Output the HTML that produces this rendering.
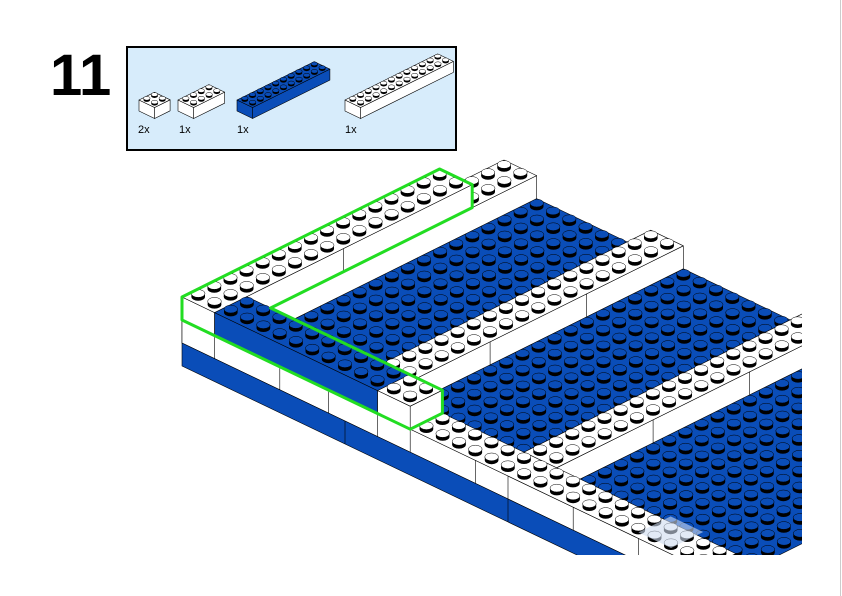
<!DOCTYPE html>
<html><head><meta charset="utf-8"><style>
html,body{margin:0;padding:0;background:#fff;}
body{width:842px;height:596px;overflow:hidden;position:relative;font-family:"Liberation Sans",sans-serif;}
</style></head><body>
<svg id="s" width="842" height="596" viewBox="0 0 842 596" xmlns="http://www.w3.org/2000/svg" style="position:absolute;left:0;top:0">
<line x1="840.5" y1="0" x2="840.5" y2="596" stroke="#ccc" stroke-width="1"/>
<text x="50" y="95" font-family="Liberation Sans" font-weight="bold" font-size="58" fill="#000">11</text>
<rect x="127" y="47" width="329" height="103" fill="#d7ecfb" stroke="#000" stroke-width="2"/>
<g id="parts"></g>
<defs><clipPath id="cp"><rect x="0" y="0" width="802" height="555"/></clipPath></defs>
<g id="m" clip-path="url(#cp)"></g>
<g id="hl"></g>
<text x="138" y="133" font-size="11" font-family="Liberation Sans">2x</text>
<text x="179" y="133" font-size="11" font-family="Liberation Sans">1x</text>
<text x="237" y="133" font-size="11" font-family="Liberation Sans">1x</text>
<text x="345" y="133" font-size="11" font-family="Liberation Sans">1x</text>
</svg>
<script>
var BLUE="#0a4db8",WHITE="#fff";
var H=23;
function mk(ox,oy,k){return function(a,b,z){return [ox+k*(16.3*a+16.1*b), oy+k*(7.8*a-8.0*b-z)];};}
var out=[];
function poly(pts,fill,sw){out.push('<polygon points="'+pts.map(function(p){return p[0].toFixed(1)+','+p[1].toFixed(1);}).join(' ')+'" fill="'+fill+'" stroke="#000" stroke-width="'+(sw||0.6)+'" stroke-linejoin="round"/>');}
function line(p,q){out.push('<line x1="'+p[0].toFixed(1)+'" y1="'+p[1].toFixed(1)+'" x2="'+q[0].toFixed(1)+'" y2="'+q[1].toFixed(1)+'" stroke="#000" stroke-width="0.6"/>');}
function studs(P,k,a0,a1,b0,b1,z,col){
  for(var a=a0;a<a1-0.01;a++){for(var b=b1-1;b>=b0-0.01;b--){
    var c=P(a+0.5,b+0.5,z);
    var rx=6.8*k,ry=3.9*k,h=3.4*k;
    out.push('<ellipse cx="'+c[0].toFixed(1)+'" cy="'+c[1].toFixed(1)+'" rx="'+rx+'" ry="'+ry+'" fill="#000"/>');
    out.push('<rect x="'+(c[0]-rx).toFixed(1)+'" y="'+(c[1]-h).toFixed(1)+'" width="'+(2*rx)+'" height="'+h+'" fill="#000"/>');
    out.push('<ellipse cx="'+c[0].toFixed(1)+'" cy="'+(c[1]-h).toFixed(1)+'" rx="'+rx+'" ry="'+ry+'" fill="'+col+'" stroke="#000" stroke-width="0.5"/>');
  }}
}
function brick(P,k,a0,a1,b0,b1,z0,z1,col,noStuds,faces){
  faces=faces||{a:1,b:1};
  if(faces.a) poly([P(a1,b0,z1),P(a1,b1,z1),P(a1,b1,z0),P(a1,b0,z0)],col);
  if(faces.b) poly([P(a0,b0,z1),P(a1,b0,z1),P(a1,b0,z0),P(a0,b0,z0)],col);
  poly([P(a0,b0,z1),P(a1,b0,z1),P(a1,b1,z1),P(a0,b1,z1)],col);
  if(!noStuds) studs(P,k,a0,a1,b0,b1,z1,col);
}
var P=mk(182,297,1);
[[2,9],[11,19],[21,32]].forEach(function(r){
  poly([P(r[0],2,-2*H),P(r[1],2,-2*H),P(r[1],20,-2*H),P(r[0],20,-2*H)],BLUE);
  studs(P,1,r[0],r[1],2,20,-2*H,BLUE);
});
brick(P,1,0,2,0,20,-2*H,-H,WHITE);
brick(P,1,9,11,2,20,-2*H,-H,WHITE);
brick(P,1,19,21,2,20,-2*H,-H,WHITE);
[8,14].forEach(function(b){line(P(11,b,-H),P(11,b,-2*H));line(P(21,b,-H),P(21,b,-2*H));});
brick(P,1,0,32,0,2,-2*H,-H,WHITE,false,{a:0,b:1});
poly([P(0,0,-2*H),P(32,0,-2*H),P(32,0,-3*H),P(0,0,-3*H)],BLUE);
[2,6,9,12,14,18,20,24,28].forEach(function(a){line(P(a,0,-H),P(a,0,-2*H));});
[10,20].forEach(function(a){line(P(a,0,-2*H),P(a,0,-3*H));});
out.push('<polygon points="'+[P(28,0,-H+6),P(30,0,-H+6),P(30,2,-H+6),P(28,2,-H+6)].map(function(p){return p.join(',')}).join(' ')+'" fill="#cfdcf0" opacity="0.6"/>');
document.getElementById('m').innerHTML=out.join('');
out=[];
brick(P,1,0,2,0,16,-H,0,WHITE);
line(P(2,8,0),P(2,8,-H));
brick(P,1,2,12,0,2,-H,0,BLUE,false,{a:0,b:1});
brick(P,1,12,14,0,2,-H,0,WHITE);
var g=[P(0,0,0),P(0,0,-H),P(14,0,-H),P(14,2,-H),P(14,2,0),[270.6,308],P(2,16,-H),P(2,16,0),P(0,16,0)];
out.push('<polygon points="'+g.map(function(p){return p[0].toFixed(1)+','+p[1].toFixed(1)}).join(' ')+'" fill="none" stroke="#22dd22" stroke-width="3" stroke-linejoin="round"/>');
document.getElementById('hl').innerHTML=out.join('');
out=[];
var k=0.48,h=H;
var Q=mk(139,100,k); brick(Q,k,0,2,0,2,-h,0,WHITE);
Q=mk(178,100,k); brick(Q,k,0,2,0,4,-h,0,WHITE);
Q=mk(237,100,k); brick(Q,k,0,2,0,10,-h,0,BLUE);
Q=mk(345,100,k); brick(Q,k,0,2,0,12,-h,0,WHITE);
document.getElementById('parts').innerHTML=out.join('');
</script>
</body></html>
